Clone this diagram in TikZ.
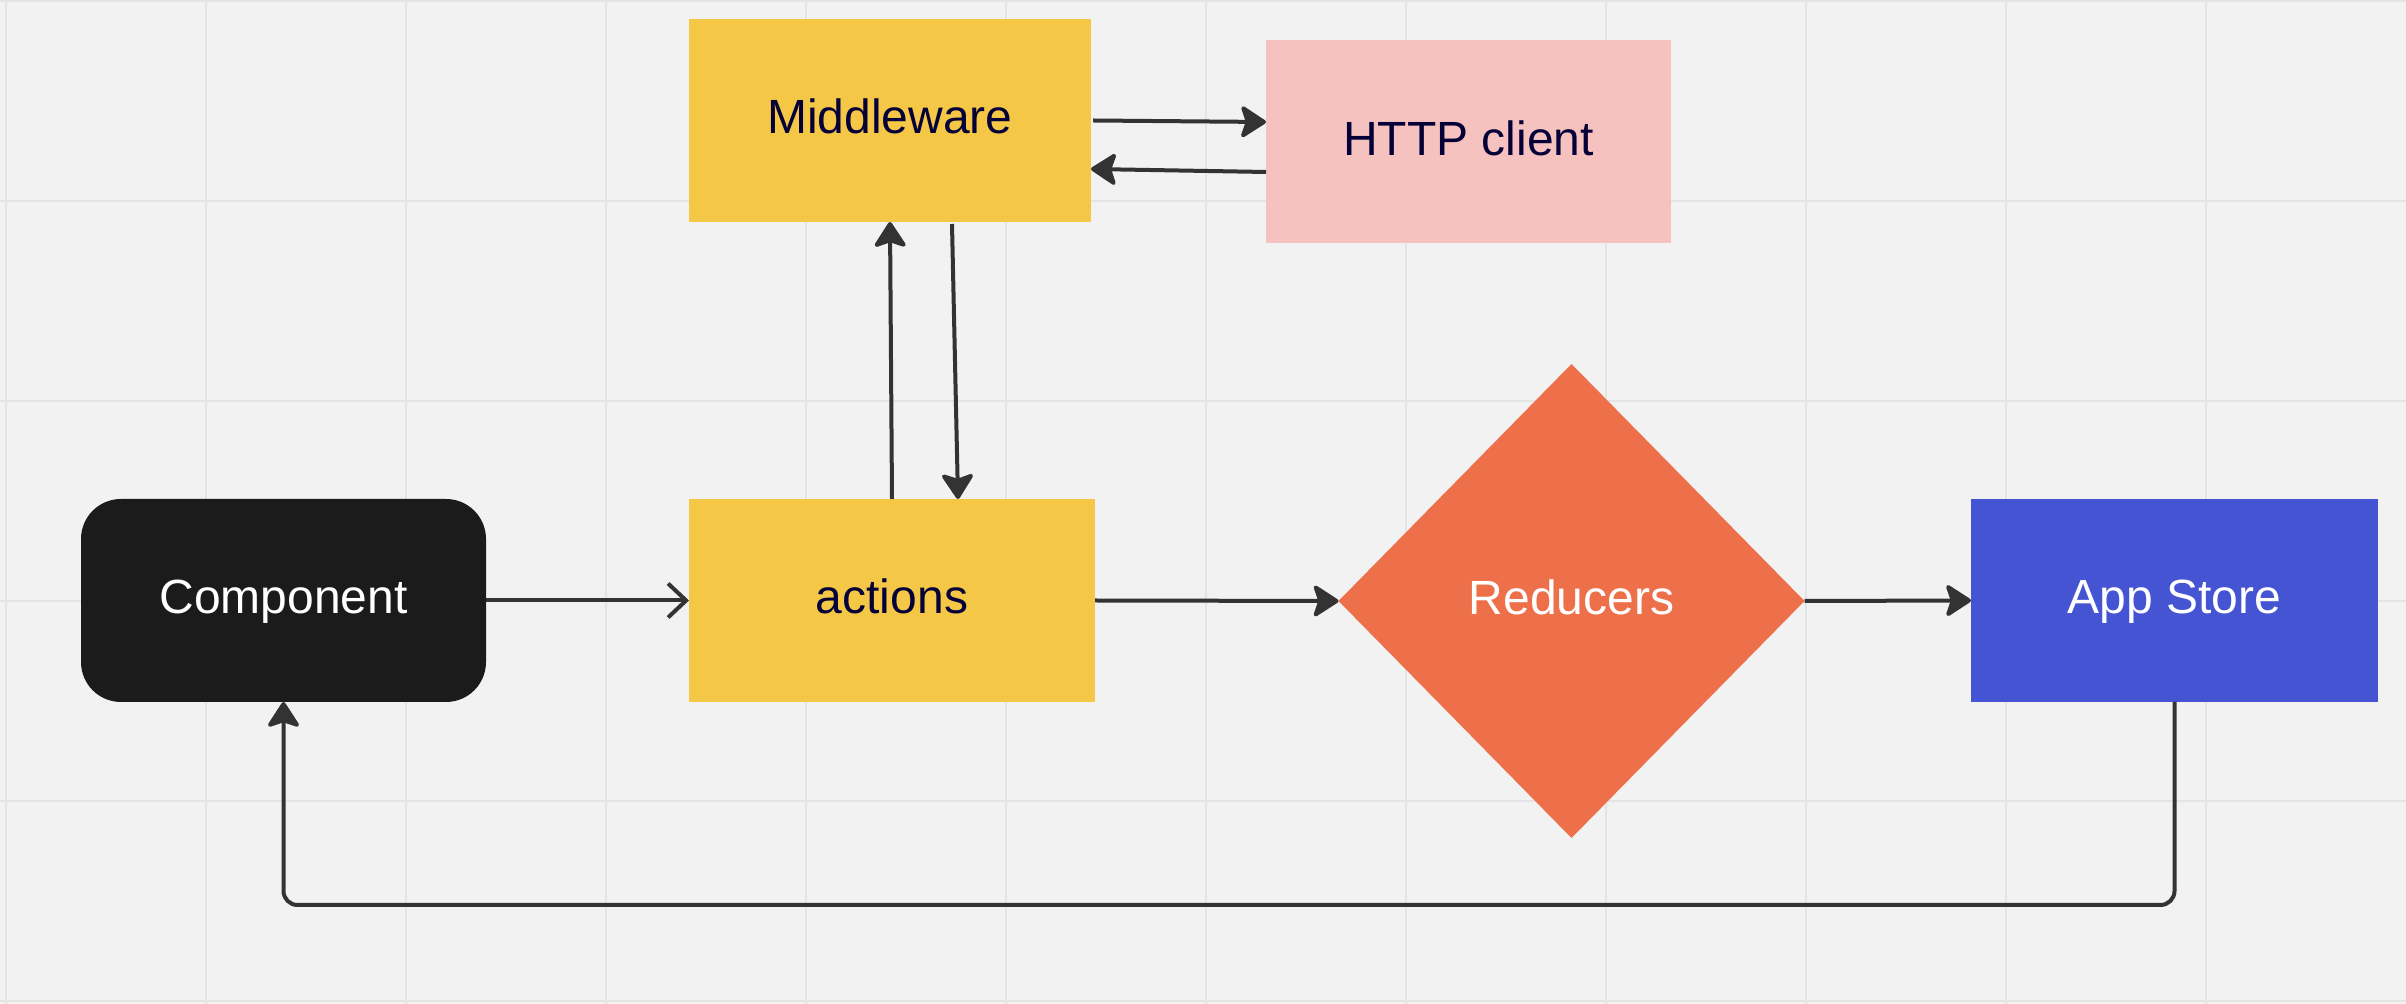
\documentclass[tikz,border=0pt]{standalone}
\usepackage{fontspec}
\setmainfont{Liberation Sans}
\usetikzlibrary{arrows.meta,shapes.geometric,calc}
\definecolor{cBg}{HTML}{F2F2F2}
\definecolor{cGrid}{HTML}{E4E4E4}
\definecolor{cYel}{HTML}{F5C746}
\definecolor{cPink}{HTML}{F5C2BF}
\definecolor{cOrange}{HTML}{ED704B}
\definecolor{cBlue}{HTML}{4454D2}
\definecolor{cBlack}{HTML}{1B1B1B}
\definecolor{cText}{HTML}{050038}
\definecolor{cLine}{HTML}{333333}
\tikzset{
  box/.style={rectangle, inner sep=0pt, outer sep=0pt, minimum height=101.5pt,
    font=\fontsize{24}{28}\selectfont, text height=17pt, text depth=3.5pt},
  darktext/.style={text=cText},
  lighttext/.style={text=white},
  arr/.style={draw=cLine, line width=2pt, -{Stealth[length=14pt,width=18pt,inset=3pt,round]}},
  barb/.style={draw=cLine, line width=2pt, -{Straight Barb[length=9pt,width=17pt]}},
  gridline/.style={draw=cGrid, line width=1.25pt}
}
\begin{document}
\begin{tikzpicture}[x=0.5pt,y=-0.5pt]
\fill[cBg] (0,0) rectangle (2406,1004);
\useasboundingbox (0,0) rectangle (2406,1004);
\foreach \gx in {6,206,...,2206} \draw[gridline] (\gx,0) -- (\gx,1004);
\foreach \gy in {1,201,...,1001} \draw[gridline] (0,\gy) -- (2406,\gy);

\node[box, darktext, fill=cYel, minimum width=201pt] (mw) at (890,120.5) {Middleware};
\node[box, darktext, fill=cPink, minimum width=202.5pt] (http) at (1468.5,142) {HTTP client};
\node[box, lighttext, fill=cBlack, minimum width=202.5pt, rounded corners=20pt] (comp) at (283.5,600.5) {Component};
\node[box, darktext, fill=cYel, minimum width=203pt] (act) at (892,600.5) {actions};
\node[diamond, inner sep=0pt, outer sep=0pt, fill=cOrange, text=white,
  minimum width=233pt, minimum height=237pt,
  font=\fontsize{24}{28}\selectfont, text height=17pt, text depth=3.5pt] (red) at (1571.5,601) {Reducers};
\node[box, lighttext, fill=cBlue, minimum width=203.5pt] (app) at (2174.5,600.5) {App Store};

\draw[arr] ($(mw.east)+(2,0)$) -- ($(http.west)+(0,-20)$);
\draw[arr] ($(http.west)+(0,30)$) -- ($(mw.east)+(0,48.5)$);
\draw[arr] (act.north) -- (mw.south);
\draw[arr] ($(mw.south)+(62,2)$) -- ($(act.north)+(66,0)$);
\draw[barb] (comp.east) -- (act.west);
\draw[arr] (act.east) -- (red.west);
\draw[arr] (red.east) -- (app.west);
\draw[arr, rounded corners=7pt] (app.south) -- ++(0,203) -| (comp.south);
\end{tikzpicture}
\end{document}
